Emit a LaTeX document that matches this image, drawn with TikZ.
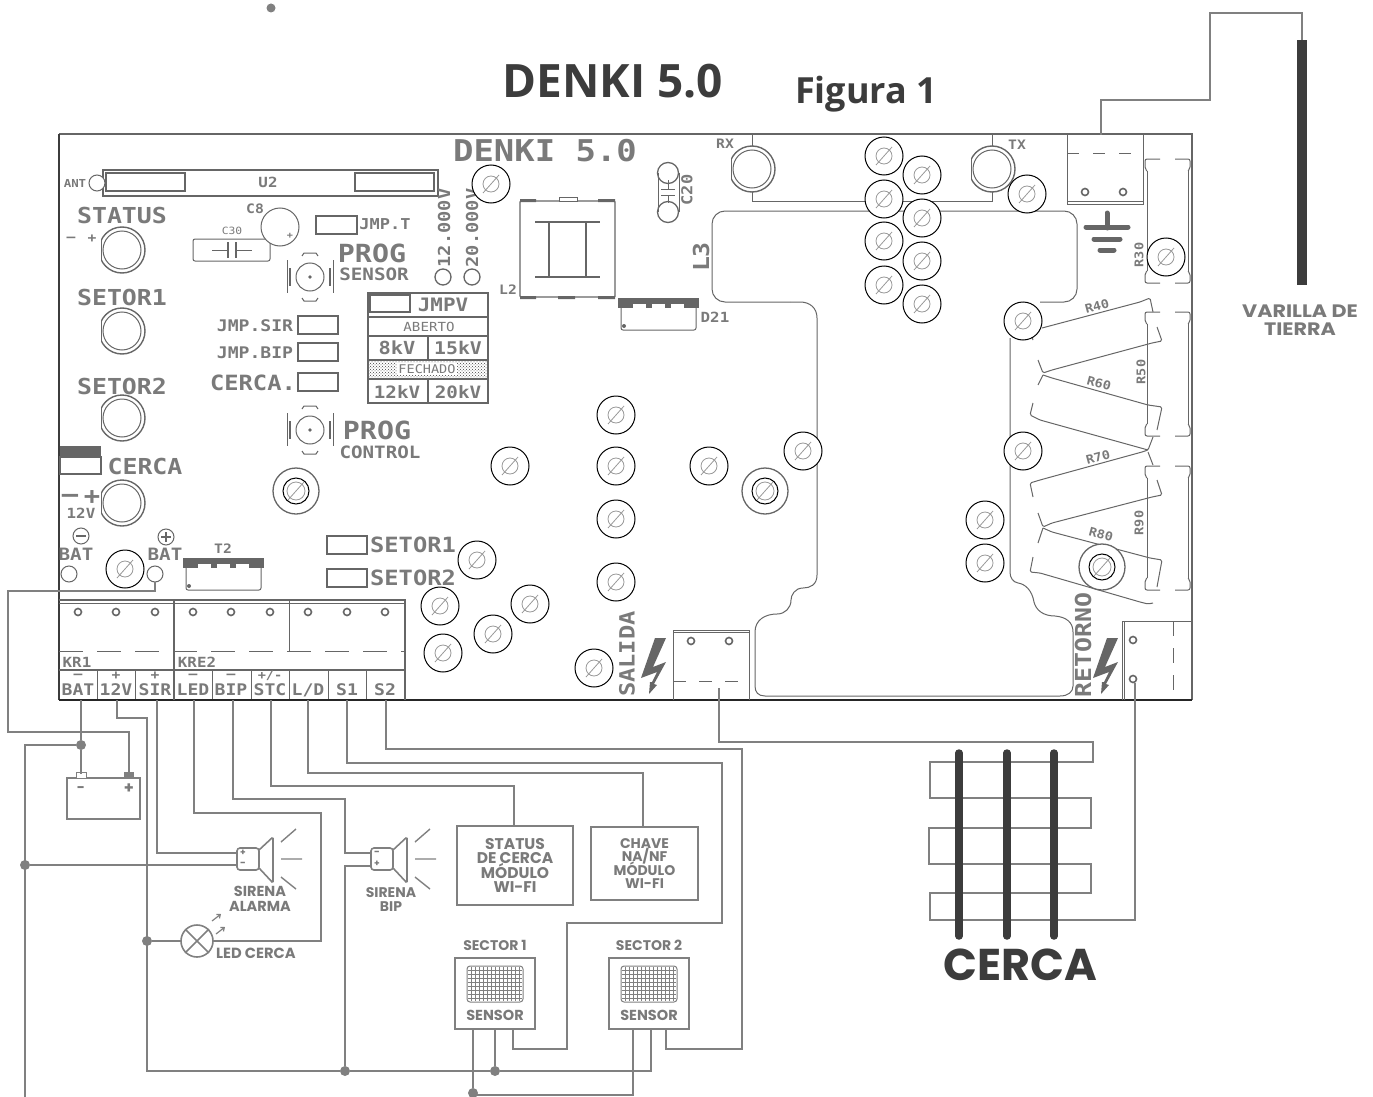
\documentclass[tikz,border=0pt]{standalone}
\usepackage{fontspec}
\usetikzlibrary{patterns,arrows.meta}
\newfontfamily\pcbf[FakeStretch=1.13]{DejaVu Sans Mono}
\newfontfamily\labf{Poppins}
\newfontfamily\titf{Open Sans}
\definecolor{pg}{HTML}{7A7A7A}
\definecolor{ln}{HTML}{666666}
\definecolor{wr}{HTML}{808080}
\definecolor{dk}{HTML}{3C3C3C}
\newcounter{nn}
\tikzset{
  pcbtext/.style={inner sep=0pt,text=pg,font=\pcbf\bfseries},
  pcbthin/.style={inner sep=0pt,text=pg,font=\pcbf},
  labtext/.style={inner sep=0pt,text=pg,align=center},
  pl/.style={draw=ln,line width=1pt},
  plt/.style={draw=ln,line width=1.3pt},
  wire/.style={draw=wr,line width=2.3pt,line join=miter},
  jdot/.style={circle,fill=wr,inner sep=0pt,minimum size=10pt},
  boxn/.style={draw=wr,line width=2.3pt,fill=white,inner sep=0pt,labtext,execute at begin node={\lineskiplimit=-20pt\relax}},
  holec/.style={draw=ln,line width=1.6pt,fill=white},
}
\newcommand\Pcb[5][0]{\stepcounter{nn}\node[pcbtext,rotate=#1] (p\arabic{nn}) at (#2,#3) {\fontsize{#4}{#4}\selectfont #5};}
\newcommand\Pct[5][0]{\stepcounter{nn}\node[pcbthin,rotate=#1] (p\arabic{nn}) at (#2,#3) {\fontsize{#4}{#4}\selectfont #5};}
\newcommand\Lab[4]{\stepcounter{nn}\node[labtext,font=\labf\bfseries\fontsize{#3}{#3}\selectfont] (p\arabic{nn}) at (#1,#2) {#4};}
\newcommand\screw[2]{\draw[black,line width=1pt,fill=white] (#1,#2) circle[radius=19pt];
  \draw[gray!80,line width=0.8pt] (#1,#2) circle[radius=8pt];
  \draw[gray!80,line width=0.8pt] (#1-8,#2+9) -- (#1+8,#2-9);}
\newcommand\wscrew[2]{\draw[ln,line width=1.3pt,fill=white] (#1,#2) circle[radius=23pt];
  \draw[black,line width=1pt] (#1,#2) circle[radius=13pt];
  \draw[gray!80,line width=0.8pt] (#1,#2) circle[radius=9pt];
  \draw[gray!80,line width=0.8pt] (#1-8,#2+9) -- (#1+8,#2-9);}
\newcommand\ledpad[2]{\begin{scope}\clip (#1-21,#2-30) rectangle (#1+30,#2+30);
  \draw[ln,line width=1.4pt,fill=white] (#1,#2) circle[radius=23pt];\end{scope}
  \draw[ln,line width=1pt] (#1-21,#2-9) -- (#1-21,#2+9);
  \draw[ln,line width=1pt] (#1,#2) circle[radius=19pt];}
\newcommand\psw[2]{\draw[pl] (#1,#2) circle[radius=14pt];
  \fill[ln] (#1,#2) circle[radius=1.8pt];
  \draw[pl] (#1-23,#2-17) -- (#1-23,#2+16) (#1+23,#2-17) -- (#1+23,#2+16);
  \draw[plt] (#1-20,#2-9) -- (#1-20,#2+9) (#1+20,#2-9) -- (#1+20,#2+9);
  \draw[pl] (#1-8,#2-21) -- (#1-6,#2-24) -- (#1+6,#2-24) -- (#1+8,#2-21);
  \draw[pl] (#1-8,#2+21) -- (#1-6,#2+24) -- (#1+6,#2+24) -- (#1+8,#2+21);}
\newcommand\tsmd[2]{%
  \fill[ln] (#1,#2) rectangle (#1+81,#2+6);
  \fill[ln] (#1,#2+6) rectangle (#1+15,#2+10);
  \fill[ln] (#1+28,#2+6) rectangle (#1+34,#2+10);
  \fill[ln] (#1+47,#2+6) rectangle (#1+53,#2+10);
  \fill[ln] (#1+66,#2+6) rectangle (#1+81,#2+10);
  \draw[pl,rounded corners=2pt] (#1+3,#2+10) -- (#1+3,#2+32) -- (#1+78,#2+32) -- (#1+78,#2+10);
  \fill[ln] (#1+6,#2+28) circle[radius=2pt];}
\newcommand\rv[2]{%
  \draw[pl] (1147,#1+12) -- (1147,#2-12) (1188,#1+12) -- (1188,#2-12);
  \draw[pl,rounded corners=2pt] (1147,#1+12) -- (1145,#1+10) -- (1145,#1) -- (1160,#1);
  \draw[pl,rounded corners=2pt] (1175,#1) -- (1190,#1) -- (1190,#1+10) -- (1188,#1+12);
  \draw[pl,rounded corners=2pt] (1147,#2-12) -- (1145,#2-10) -- (1145,#2) -- (1160,#2);
  \draw[pl,rounded corners=2pt] (1175,#2) -- (1190,#2) -- (1190,#2-10) -- (1188,#2-12);}
\newcommand\bolt[2]{\fill[ln,shift={(#1,#2)}] (55,78) -- (66,78) -- (53,107) -- (66,102) -- (54,124) -- (57,125) -- (49,134) -- (50,122) -- (52,122) -- (57,112) -- (41,118) -- cycle;}
\newcommand\siren[2]{%
  \draw[wr,line width=1.6pt,rounded corners=3pt,fill=white] (#1,#2) rectangle (#1+22,#2+22);
  \draw[wr,line width=1.6pt,rounded corners=1.5pt] (#1+22,#2+2) -- (#1+36,#2-11) -- (#1+36,#2+35) -- (#1+22,#2+20);
  \draw[wr,line width=1.4pt] (#1+44,#2-6) -- (#1+59,#2-19) (#1+44,#2+11) -- (#1+65,#2+11) (#1+44,#2+29) -- (#1+59,#2+41);}
\newcommand\grill[2]{%
  \draw[wr,line width=1pt,rounded corners=3pt,fill=white] (#1,#2) rectangle (#1+56,#2+36);
  \foreach \g in {4,8,...,52} \draw[wr,line width=0.55pt] (#1+\g,#2+1) -- (#1+\g,#2+35);
  \foreach \g in {4,8,...,32} \draw[wr,line width=0.55pt] (#1+1,#2+\g) -- (#1+55,#2+\g);}
\begin{document}
\begin{tikzpicture}[x=1pt,y=-1pt]
\useasboundingbox (0,0) rectangle (1373,1097);
\node[circle,fill=wr,inner sep=0pt,minimum size=9pt] (topdot) at (271,8) {};
\node[inner sep=0pt,text=dk,font=\titf\bfseries\fontsize{46}{46}\selectfont] (title) at (613,81) {DENKI 5.0};
\node[inner sep=0pt,text=dk,font=\titf\bfseries\fontsize{36}{36}\selectfont] (figura) at (866,94) {Figura 1};
% board
\draw[draw=ln,line width=1.3pt] (59,134) -- (1192,134) -- (1192,700);
\draw[dk,line width=1.8pt] (59,134) -- (59,700);
\draw[black!85,line width=1.3pt] (59,700) -- (1192,700);
% U2
\draw[plt] (103,170) rectangle (438,196);
\draw[plt] (106,173) rectangle (185,191) (355,173) rectangle (434,191);
\draw[pl,fill=white] (97,183) circle[radius=8pt];
\Pcb{268}{182}{14}{U2}
\Pcb{75}{183}{11}{ANT}
% leds
\ledpad{122}{250}\ledpad{122}{331}\ledpad{122}{418}\ledpad{122}{503}
\Pcb{122}{215}{22}{STATUS}
\Pcb{122}{297}{22}{SETOR1}
\Pcb{122}{386}{22}{SETOR2}
\Pcb{145}{466}{22}{CERCA}
\Pcb{71}{239}{13}{–}
\Pcb{92}{239}{13}{+}
\fill[ln] (60,446) rectangle (101,457);
\draw[plt,fill=white] (60,457) rectangle (101,474);
\Pcb{70}{498}{24}{–}
\Pcb{92}{498}{24}{+}
\Pcb{81}{513}{14}{12V}
% battery pads
\draw[pl] (81,536) circle[radius=8pt];
\draw[draw=ln,line width=1.8pt] (76,536) -- (86,536);
\draw[pl] (166,537) circle[radius=8pt];
\draw[draw=ln,line width=1.8pt] (161,537) -- (171,537) (166,532) -- (166,542);
\Pcb{76}{554}{17}{BAT}
\Pcb{165}{554}{17}{BAT}
\draw[pl,fill=white] (69,574) circle[radius=8pt];
\draw[pl,fill=white] (155,574) circle[radius=8pt];
\coordinate (padP) at (155,582);
% C30, C8
\draw[pl,rounded corners=2pt] (193,239) rectangle (270,261);
\draw[pl] (212,250) -- (228,250) (236,250) -- (252,250);
\draw[draw=ln,line width=1.4pt] (228,242) -- (228,258);
\draw[draw=ln,line width=2.4pt] (236,242) -- (236,258);
\Pct{232}{231}{10}{C30}
\draw[pl,fill=white] (280,227) circle[radius=19pt];
\Pcb{255}{209}{13}{C8}
\Pcb{290}{236}{9}{+}
% jumpers
\draw[plt] (316,216) rectangle (357,234);
\Pcb{385}{224}{15}{JMP.T}
\draw[plt] (298,316) rectangle (338,334);
\draw[plt] (298,343) rectangle (338,361);
\draw[plt] (298,373) rectangle (338,391);
\Pcb{255}{326}{16}{JMP.SIR}
\Pcb{255}{353}{16}{JMP.BIP}
\Pcb{253}{383}{21}{CERCA.}
\draw[plt] (327,536) rectangle (367,554);
\draw[plt] (327,569) rectangle (367,587);
\Pcb{413}{545}{21}{SETOR1}
\Pcb{413}{578}{21}{SETOR2}
% switches
\psw{310}{277}\psw{310}{430}
\Pcb{372}{253}{25}{PROG}
\Pcb{374}{274}{17}{SENSOR}
\Pcb{377}{430}{25}{PROG}
\Pcb{380}{452}{17}{CONTROL}
% voltage selectors
\Pcb[90]{444}{228}{16.5}{12.000V}
\Pcb[90]{472}{228}{16.5}{20.000V}
\draw[plt] (443,277) circle[radius=8pt];
\draw[plt] (472,277) circle[radius=8pt];
% JMPV table
\filldraw[pattern=crosshatch dots,pattern color=black!75,draw=none] (368,360) rectangle (488,379);
\draw[plt] (368,293) rectangle (488,403);
\draw[plt] (368,317) -- (488,317) (368,336) -- (488,336) (368,360) -- (488,360) (368,379) -- (488,379);
\draw[plt] (428,336) -- (428,360) (428,379) -- (428,403);
\draw[plt] (370,295) rectangle (410,312);
\Pcb{443}{305}{18.5}{JMPV}
\Pct{429}{327}{12.5}{ABERTO}
\Pcb{397}{348}{18}{8kV}
\Pcb{458}{348}{17.5}{15kV}
\node[pcbthin,fill=white,inner xsep=1pt,inner ysep=1pt] (fechado) at (427,369) {\fontsize{12}{12}\selectfont FECHADO};
\Pcb{397}{392}{17}{12kV}
\Pcb{458}{392}{17}{20kV}
% PCB name
\Pcb{545}{151}{30}{DENKI 5.0}
% L2
\draw[draw=ln,line width=1.4pt,rounded corners=1pt] (520,201) rectangle (615,297);
\fill[ln] (520,199) rectangle (536,202) (598,199) rectangle (615,202) (520,296) rectangle (536,299) (558,296) rectangle (575,299) (598,296) rectangle (615,299);
\draw[pl,fill=white] (559,201) rectangle (577,197);
\draw[plt] (535,222) -- (600,222) (535,277) -- (600,277) (549,222) -- (549,277) (586,222) -- (586,277);
\Pcb{508}{290}{13}{L2}
% D21, T2
\tsmd{618}{298}
\Pcb{715}{317}{14}{D21}
\tsmd{183}{558}
\Pcb{223}{549}{13}{T2}
% C20
\draw[plt] (668,173) circle[radius=10.5pt];
\draw[plt] (668,212) circle[radius=10.5pt];
\draw[pl] (658,173) -- (658,212) (679,173) -- (679,212);
\draw[pl] (668,180) -- (668,189) (668,195) -- (668,203) (661,189) -- (675,189) (661,195) -- (675,195);
\Pcb[90]{687}{190}{15}{C20}
% big connector
\draw[pl] (752,134) -- (752,201) -- (992,201) -- (992,134);
\Pcb{725}{144}{13}{RX}
\Pcb{1017}{145}{13}{TX}
\ledpad{752}{169}\ledpad{992}{169}
% L3 outline
\draw[pl,rounded corners=13pt] (1040,302) -- (1077,302) -- (1077,211) -- (712,211) -- (712,302) -- (790,302);
\draw[pl] (790,302) -- (800,302) .. controls (810,302) and (817,308) .. (817,318) -- (817,575) .. controls (817,585) and (810,588) .. (803,588) .. controls (795,588) and (791,595) .. (791,600) .. controls (791,608) and (785,614) .. (777,614) .. controls (765,614) and (755,620) .. (755,632) -- (755,686) .. controls (755,692) and (758,696) .. (765,696) -- (1060,696) .. controls (1068,696) and (1073,692) .. (1073,686) -- (1073,632) .. controls (1073,622) and (1066,617) .. (1055,616) .. controls (1043,616) and (1036,610) .. (1034,602) .. controls (1032,590) and (1025,584) .. (1018,583) .. controls (1013,582) and (1010,578) .. (1010,572) -- (1010,338);
\Pcb[90]{701}{257}{22}{L3}
% resistors
\rv{159}{283}\rv{312}{436}\rv{466}{590}
\Pcb[90]{1139}{255}{12}{R30}
\Pcb[90]{1141}{372}{12}{R50}
\Pcb[90]{1139}{523}{12}{R90}
\draw[pl,rounded corners=1.5pt] (1042,328) -- (1140,302) -- (1150,298) -- (1153,312);
\draw[pl,rounded corners=1.5pt] (1157,327) -- (1162,341) -- (1152,343) -- (1052,370) -- (1043,373) -- (1038,360);
\draw[pl] (1033,340) -- (1031,334);
\draw[pl,rounded corners=1.5pt] (1043,375) -- (1052,378) -- (1148,405) -- (1162,407) -- (1157,430);
\draw[pl,rounded corners=1.5pt] (1153,437) -- (1148,450) -- (1142,452) ;
\draw[pl,rounded corners=1.5pt] (1038,385) -- (1043,375);
\draw[pl,rounded corners=1.5pt] (1033,403) -- (1030,415) -- (1040,420) -- (1148,450);
\draw[pl,rounded corners=1.5pt] (1148,452) -- (1153,465);
\draw[pl,rounded corners=1.5pt] (1157,480) -- (1162,495) -- (1152,497) -- (1052,523) -- (1043,527) -- (1038,513);
\draw[pl,rounded corners=1.5pt] (1033,497) -- (1030,483) -- (1040,480) -- (1142,452);
\draw[pl,rounded corners=1.5pt] (1043,528) -- (1052,532) -- (1150,558) -- (1162,560) -- (1157,587);
\draw[pl,rounded corners=1.5pt] (1153,603) -- (1148,604) -- (1140,602) -- (1040,573) -- (1030,572) -- (1033,557);
\draw[pl] (1038,543) -- (1043,528);
\Pcb[15]{1097}{306}{12}{R40}
\Pcb[-15]{1099}{383}{12}{R60}
\Pcb[15]{1098}{457}{12}{R70}
\Pcb[-15]{1101}{534}{12}{R80}
% screws
\foreach \sx/\sy in {491/184,884/156,922/175,884/199,922/218,884/241,922/261,884/285,922/304,1027/194,1166/257,1023/321,1023/451,803/451,709/466,616/415,616/466,616/519,616/582,510/466,477/560,440/606,530/604,493/634,443/653,594/668,985/520,985/563,125/569}
  {\screw{\sx}{\sy}}
\foreach \sx/\sy in {296/491,765/491,1102/567} {\wscrew{\sx}{\sy}}
% ground connector
\draw[pl] (1067,134) -- (1067,204) -- (1143,204) -- (1143,134) (1067,201) -- (1143,201);
\draw[pl,dash pattern=on 12pt off 14pt] (1067,153) -- (1143,153);
\draw[holec] (1085,192) circle[radius=3.5pt] (1123,192) circle[radius=3.5pt];
\draw[draw=ln,line width=5pt,line cap=round] (1107,213) -- (1107,228);
\draw[draw=ln,line width=5pt,line cap=round] (1086,227) -- (1128,227);
\draw[draw=ln,line width=5pt,line cap=round] (1094,239) -- (1120,239);
\draw[draw=ln,line width=5pt,line cap=round] (1100,250) -- (1114,250);
% terminal strip
\draw[plt] (59,600) -- (405,600) -- (405,700);
\draw[pl] (59,603) -- (405,603);
\draw[plt] (174,600) -- (174,700);
\draw[pl] (289,600) -- (289,651);
\draw[pl,dash pattern=on 24pt off 14pt] (59,651) -- (405,651);
\draw[plt] (59,670) -- (405,670);
\foreach \dx in {97,135,212,251,289,328,366} \draw[pl] (\dx,670) -- (\dx,699);
\foreach \hx in {78,116,155,193,231,270,308,347,385} \draw[holec] (\hx,612) circle[radius=3.5pt];
\Pcb{77}{662}{14}{KR1}
\Pcb{197}{662}{14}{KRE2}
\Pcb{78}{690}{16}{BAT}
\Pcb{116}{690}{16}{12V}
\Pcb{155}{690}{16}{SIR}
\Pcb{193}{690}{16}{LED}
\Pcb{231}{690}{16}{BIP}
\Pcb{270}{690}{16}{STC}
\Pcb{308}{690}{16}{L/D}
\Pcb{347}{690}{16}{S1}
\Pcb{385}{690}{16}{S2}
\Pcb{78}{676}{13}{–}
\Pcb{116}{676}{13}{+}
\Pcb{155}{676}{13}{+}
\Pcb{193}{676}{13}{–}
\Pcb{231}{676}{13}{–}
\Pcb{270}{676}{12}{+/-}
% salida, retorno
\draw[pl] (673,700) -- (673,630) -- (749,630) -- (749,700) (673,632) -- (749,632);
\draw[pl,dash pattern=on 13pt off 13pt] (673,681) -- (749,681);
\draw[holec] (691,641) circle[radius=3.5pt] (729,641) circle[radius=3.5pt];
\draw[pl] (1122,700) -- (1122,621) -- (1192,621) (1124,621) -- (1124,700);
\draw[pl,dash pattern=on 15pt off 12pt] (1173,621) -- (1173,700);
\draw[holec] (1133,640) circle[radius=3.5pt] (1133,679) circle[radius=3.5pt];
\Pcb[90]{627}{654}{21}{SALIDA}
\Pcb[90]{1083}{645}{22}{RETORNO}
\bolt{600}{560}
\bolt{1052}{560}
% --- components outside board
\coordinate (tBAT) at (81,700);\coordinate (t12V) at (117,700);\coordinate (tSIR) at (157,700);
\coordinate (tLED) at (194,700);\coordinate (tBIP) at (233,700);\coordinate (tSTC) at (271,700);
\coordinate (tLD) at (308,700);\coordinate (tS1) at (347,700);\coordinate (tS2) at (386,700);
\coordinate (tSal) at (719,688);\coordinate (tRet) at (1135,683);\coordinate (antT) at (1101,135);
\coordinate (batN) at (81,774);\coordinate (batP) at (129,774);
\coordinate (sirAp) at (237,853);\coordinate (sirAn) at (237,865);
\coordinate (sirBp) at (371,866);\coordinate (sirBn) at (371,853);
\coordinate (s1a) at (473,1029);\coordinate (s1b) at (495,1029);\coordinate (s1c) at (513,1029);
\coordinate (s2a) at (633,1029);\coordinate (s2b) at (651,1029);\coordinate (s2c) at (666,1029);
\coordinate (ledR) at (213,941);\coordinate (ledL) at (181,941);
\coordinate (rodT) at (1302,40);
\coordinate (wifiAt) at (514,826);\coordinate (wifiBt) at (643,827);
\node[jdot] (j1) at (81,745) {};
\node[jdot] (j2) at (25,865) {};
\node[jdot] (j3) at (147,941) {};
\node[jdot] (j4) at (345,1071) {};
\node[jdot] (j5) at (495,1071) {};
\node[jdot] (j6) at (473,1093) {};
\node[boxn,font=\labf\bfseries\fontsize{15.5}{14.5}\selectfont,minimum width=116pt,minimum height=79pt] (wifiA) at (515,865.5) {STATUS\\DE CERCA\\MÓDULO\\WI-FI};
\node[boxn,font=\labf\bfseries\fontsize{14}{13.4}\selectfont,minimum width=107pt,minimum height=73pt] (wifiB) at (644.5,863.5) {CHAVE\\NA/NF\\MÓDULO\\WI-FI};
\node[boxn,minimum width=80pt,minimum height=71pt] (sen1) at (495,993.5) {};
\node[boxn,minimum width=80pt,minimum height=71pt] (sen2) at (649,993.5) {};
\grill{467}{966}\grill{621}{966}
\Lab{495}{1015}{14.5}{SENSOR}
\Lab{649}{1015}{14.5}{SENSOR}
\Lab{495}{945}{14}{SECTOR 1}
\Lab{649}{945}{14}{SECTOR 2}
% battery
\draw[wr,line width=1.6pt] (67,778) rectangle (140,819);
\draw[wr,line width=1pt,fill=white] (76,772) rectangle (86,778);
\fill[wr] (124,772) rectangle (134,778);
\Lab{81}{790}{14}{-}
\Lab{129}{789}{16}{+}
% wires
\draw[wire] (padP) -- (155,591) -- (8,591) -- (8,732) -- (129,732) -- (batP);
\draw[wire] (tBAT) -- (j1) -- (batN);
\draw[wire] (j1) -| (25,1097);
\draw[wire] (j2) -- (sirAn);
\draw[wire] (t12V) -- (117,718) -- (147,718) -- (147,1071) -- (j4);
\draw[wire] (j4) -- (j5) -- (651,1071) -- (s2b);
\draw[wire] (j5) -- (s1b);
\draw[wire] (j3) -- (ledL);
\draw[wire] (tSIR) |- (sirAp);
\draw[wire] (tLED) -- (194,813) -- (321,813) -- (321,941) -- (ledR);
\draw[wire] (tBIP) -- (233,799) -- (345,799) -- (345,853) -- (sirBn);
\draw[wire] (j4) -- (345,866) -- (sirBp);
\draw[wire] (tSTC) -- (271,786) -- (514,786) -- (wifiAt);
\draw[wire] (tLD) -- (308,773) -- (643,773) -- (wifiBt);
\draw[wire] (tS1) -- (347,763) -- (722,763) -- (722,923) -- (567,923) -- (567,1049) -- (513,1049) -- (s1c);
\draw[wire] (tS2) -- (386,749) -- (742,749) -- (742,1049) -- (666,1049) -- (s2c);
\draw[wire] (s1a) -- (j6);
\draw[wire] (j6) -- (473,1097);
\draw[wire] (473,1095) -- (633,1095) -- (s2a);
% sirens
\siren{237}{848}
\Lab{243}{853}{9}{+}
\Lab{243}{864}{10}{-}
\siren{371}{848}
\Lab{377}{853}{10}{-}
\Lab{377}{864}{9}{+}
\Lab{260}{899}{14.5}{SIRENA\\ALARMA}
\Lab{391}{900}{14}{SIRENA\\BIP}
% led
\node[circle,draw=wr,line width=1.6pt,minimum size=32pt,inner sep=0pt] (led) at (197,941) {};
\draw[wr,line width=1.5pt] (led.north west) -- (led.south east) (led.north east) -- (led.south west);
\draw[wr,line width=1.2pt,-{Straight Barb[length=3pt,width=5pt]}] (212,921) -- (221,914);
\draw[wr,line width=1.2pt,-{Straight Barb[length=3pt,width=5pt]}] (216,934) -- (225,927);
\Lab{256}{953}{14.7}{LED CERCA}
% fence
\draw[wire] (tSal) -- (719,742) -- (1093,742) -- (1093,762) -- (930,762) -- (930,798) -- (1091,798) -- (1091,828) -- (929,828) -- (929,864) -- (1091,864) -- (1091,893) -- (930,893) -- (930,920) -- (1135,920) -- (tRet);
\foreach \fx in {959,1007,1054} \draw[dk,line width=7.5pt,line cap=round] (\fx,753) -- (\fx,936);
\node[inner sep=0pt,text=dk,font=\labf\bfseries\fontsize{44.5}{44.5}\selectfont] (cerca) at (1020,965) {CERCA};
% antenna
\draw[wire] (antT) -- (1101,100) -- (1210,100) -- (1210,13) -- (1302,13) -- (rodT);
\fill[dk] (1297,40) rectangle (1307,285);
\node[labtext,xscale=1.15,font=\labf\bfseries\fontsize{18}{18}\selectfont] (varilla) at (1300,320) {VARILLA DE\\TIERRA};
\end{tikzpicture}
\end{document}
